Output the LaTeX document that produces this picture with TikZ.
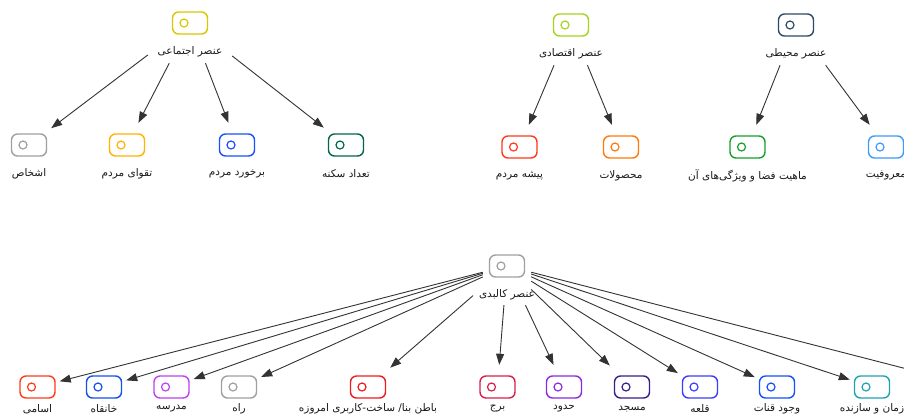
\documentclass[tikz,border=0pt]{standalone}
\usepackage{fontspec}
\usetikzlibrary{arrows.meta}
\newfontfamily\arabicfont[Script=Arabic]{DejaVu Sans}
\TeXXeTstate=1
\definecolor{cEjt}{HTML}{D9C800}
\definecolor{cGray}{HTML}{A0A0A0}
\definecolor{cTaqva}{HTML}{FFB300}
\definecolor{cBarkh}{HTML}{1A4FFF}
\definecolor{cTedad}{HTML}{00674D}
\definecolor{cEqt}{HTML}{A6D41E}
\definecolor{cPishe}{HTML}{FF3A1A}
\definecolor{cMahsul}{HTML}{FF7A0A}
\definecolor{cMohiti}{HTML}{2E4A66}
\definecolor{cMahiyat}{HTML}{16A02A}
\definecolor{cMaruf}{HTML}{3D9BFF}
\definecolor{cAsami}{HTML}{FF3B1F}
\definecolor{cKhanq}{HTML}{1450F0}
\definecolor{cMadr}{HTML}{C040F5}
\definecolor{cBaten}{HTML}{EE1C1C}
\definecolor{cBorj}{HTML}{D6204A}
\definecolor{cHodud}{HTML}{8A2BE2}
\definecolor{cMasj}{HTML}{3A1D8A}
\definecolor{cQale}{HTML}{3C3CFF}
\definecolor{cQanat}{HTML}{1450FF}
\definecolor{cZaman}{HTML}{1FA2B4}
\definecolor{cEdge}{HTML}{333333}
\tikzset{
  icon/.style={draw=#1, line width=1.4pt, rounded corners=6pt,
    minimum width=35pt, minimum height=22pt, inner sep=0pt,
    path picture={\draw[#1, line width=1.2pt]
      ([xshift=11.5pt]path picture bounding box.west) circle (4pt);}},
  lbl/.style={font=\arabicfont\fontsize{10.5}{12}\selectfont, text=black!90, inner sep=0pt},
  pbox/.style={minimum width=84pt, minimum height=80pt, inner sep=0pt},
  kbox/.style={minimum width=48pt, minimum height=78pt, inner sep=0pt},
  cbox/.style={minimum width=44pt, minimum height=44pt, inner sep=0pt},
  arr/.style={draw=cEdge, line width=0.9pt, -{Triangle[length=11pt,width=8pt]}},
}
% name, x, y, colour, label, box style, label offset
\newcommand\gnode[7]{%
  \node[#6] (#1) at (#2,#3) {};
  \node[icon=#4] (#1i) at (#2,#3) {};
  \node[lbl] (#1l) at (#2,#3+#7) {#5};
}
\begin{document}
\begin{tikzpicture}[x=1pt,y=-1pt]
\useasboundingbox (0,0) rectangle (904,416);
\clip (0,0) rectangle (904,416);
\fill[white] (0,0) rectangle (904,416);
% social
\gnode{ejt}{190}{23}{cEjt}{\beginR عنصر اجتماعی\endR}{pbox}{29}
\gnode{ashkhas}{29}{145}{cGray}{\beginR اشخاص\endR}{cbox}{28.5}
\gnode{taqva}{127}{145}{cTaqva}{\beginR تقوای مردم\endR}{cbox}{28.5}
\gnode{barkh}{237}{145}{cBarkh}{\beginR برخورد مردم\endR}{cbox}{28.5}
\gnode{tedad}{346}{145}{cTedad}{\beginR تعداد سکنه\endR}{cbox}{28.5}
% economic
\gnode{eqt}{571}{25}{cEqt}{\beginR عنصر اقتصادی\endR}{pbox}{29}
\gnode{pishe}{519.5}{147}{cPishe}{\beginR پیشه مردم\endR}{cbox}{28.5}
\gnode{mahsul}{621}{147}{cMahsul}{\beginR محصولات\endR}{cbox}{28.5}
% environmental
\gnode{mohiti}{796}{25}{cMohiti}{\beginR عنصر محیطی\endR}{pbox}{29}
\gnode{mahiyat}{747.5}{147}{cMahiyat}{\beginR ماهیت فضا و ویژگی‌های آن\endR}{cbox}{28.5}
\gnode{maruf}{886}{147}{cMaruf}{\beginR معروفیت\endR}{cbox}{28.5}
% physical
\gnode{kal}{507}{266}{cGray}{\beginR عنصر کالبدی\endR}{kbox}{28.5}
\gnode{asami}{37.5}{387}{cAsami}{\beginR اسامی\endR}{cbox}{22}
\gnode{khanq}{104}{387}{cKhanq}{\beginR خانقاه\endR}{cbox}{22}
\gnode{madr}{171.5}{387}{cMadr}{\beginR مدرسه\endR}{cbox}{22}
\gnode{rah}{239}{387}{cGray}{\beginR راه\endR}{cbox}{22}
\gnode{baten}{368}{387}{cBaten}{\beginR باطن بنا/ ساخت-کاربری امروزه\endR}{cbox}{22}
\gnode{borj}{497.5}{387}{cBorj}{\beginR برج\endR}{cbox}{22}
\gnode{hodud}{564}{387}{cHodud}{\beginR حدود\endR}{cbox}{22}
\gnode{masj}{632}{387}{cMasj}{\beginR مسجد\endR}{cbox}{22}
\gnode{qale}{700}{387}{cQale}{\beginR قلعه\endR}{cbox}{22}
\gnode{qanat}{777}{387}{cQanat}{\beginR وجود قنات\endR}{cbox}{22}
\gnode{zaman}{872}{387}{cZaman}{\beginR زمان و سازنده\endR}{cbox}{22}
\coordinate (offc) at (977,387);
% edges
\draw[arr] (ejt) -- (ashkhas);
\draw[arr] (ejt) -- (taqva);
\draw[arr] (ejt) -- (barkh);
\draw[arr] (ejt) -- (tedad);
\draw[arr] (eqt) -- (pishe);
\draw[arr] (eqt) -- (mahsul);
\draw[arr] (mohiti) -- (mahiyat);
\draw[arr] (mohiti) -- (maruf);
\foreach \t in {asami,khanq,madr,rah,borj,hodud,masj,qale,qanat,zaman}
  \draw[arr] (kal) -- (\t);
\draw[arr, shorten <=13pt] (kal) -- (baten);
\draw[arr, shorten >=24pt] (kal) -- (offc);
\end{tikzpicture}
\end{document}
